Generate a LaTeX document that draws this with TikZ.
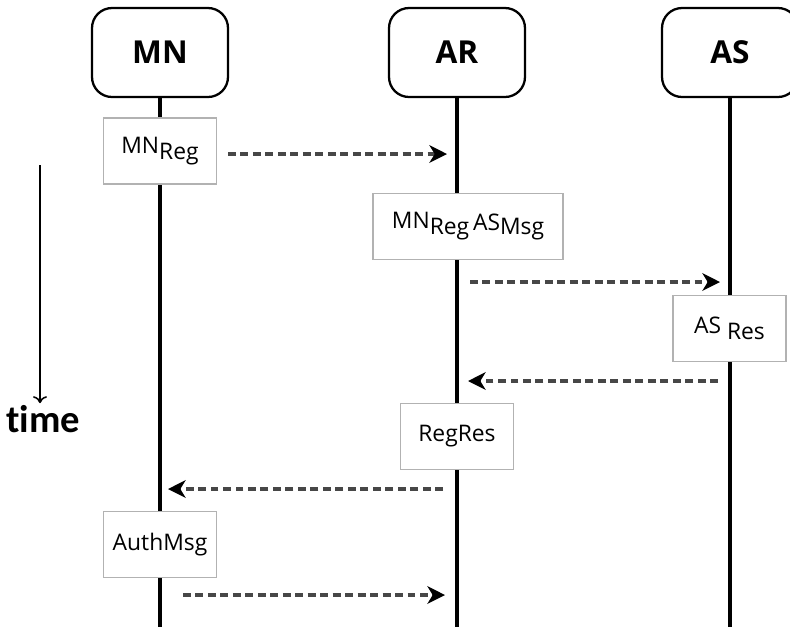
\documentclass[tikz,border=0pt]{standalone}
\usepackage{fontspec}
\setmainfont{Open Sans}
\newfontfamily\timefont[Ligatures={NoCommon,NoRequired,NoContextual}]{Carlito}
\usetikzlibrary{arrows.meta}

\tikzset{
    actor/.style={draw, line width=1.3pt, rounded corners=0.4cm,
        minimum width=2.72cm, minimum height=1.78cm,
        font=\fontsize{18}{21}\selectfont\bfseries},
    lifeline/.style={line width=1.8pt},
    msgbox/.style={draw=black!30, line width=0.6pt, fill=white,
        minimum width=2.26cm, minimum height=1.32cm,
        font=\fontsize{13}{15}\selectfont},
    msg/.style={draw=black!72, line width=1.8pt, dash pattern=on 4.5pt off 2.6pt,
        -{Stealth[length=10pt, width=10pt, inset=3pt, color=black]}},
    timearrow/.style={line width=0.9pt, -{To[length=4pt, width=8pt]}},
}
\newcommand{\lowsub}[1]{\raisebox{-3.5pt}{#1}}

\begin{document}
\begin{tikzpicture}[x=0.02cm, y=-0.02cm]
    \useasboundingbox (0,0) rectangle (790,627);

    \node[actor] (mn) at (160,52.5) {MN};
    \node[actor] (ar) at (457,52.5) {AR};
    \node[actor] (as) at (730,52.5) {AS};

    \coordinate (mnend) at (160,627);
    \coordinate (arend) at (457,627);
    \coordinate (asend) at (730,627);
    \draw[lifeline] (mn.south) -- (mnend);
    \draw[lifeline] (ar.south) -- (arend);
    \draw[lifeline] (as.south) -- (asend);

    \node[msgbox] (mnreg) at (160,151) {MN\lowsub{Reg}};
    \node[msgbox, minimum width=3.8cm] (regmsg) at (468,226.5)
        {MN\lowsub{Reg}\,\raisebox{-1pt}{AS}\lowsub{Msg}};
    \node[msgbox] (asres) at (729.5,328.5) {AS \lowsub{Res}};
    \node[msgbox] (regres) at (457,436.5) {RegRes};
    \node[msgbox] (authmsg) at (160,544.5) {AuthMsg};

    \coordinate (m1s) at (228,154);
    \coordinate (m1e) at (447,154);
    \coordinate (m2s) at (470,282);
    \coordinate (m2e) at (720,282);
    \coordinate (m3s) at (718,381);
    \coordinate (m3e) at (468,381);
    \coordinate (m4s) at (443,489);
    \coordinate (m4e) at (168,489);
    \coordinate (m5s) at (183,595);
    \coordinate (m5e) at (445,595);
    \draw[msg] (m1s) -- (m1e);
    \draw[msg] (m2s) -- (m2e);
    \draw[msg] (m3s) -- (m3e);
    \draw[msg] (m4s) -- (m4e);
    \draw[msg] (m5s) -- (m5e);

    \node[font=\timefont\fontsize{22}{26}\selectfont\bfseries, inner sep=1pt] (timelbl) at (43,419) {time};
    \coordinate (ttop) at (40,165);
    \draw[timearrow] (ttop) -- (ttop |- timelbl.north);
\end{tikzpicture}
\end{document}
